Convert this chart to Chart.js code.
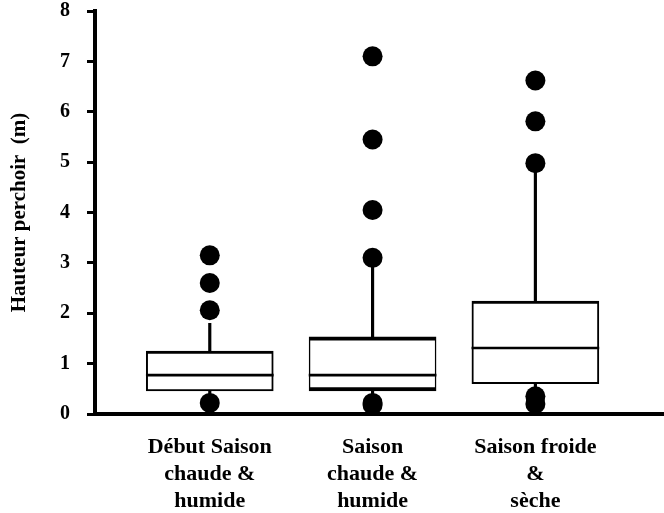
<!DOCTYPE html>
<html>
<head>
<meta charset="utf-8">
<script src="https://cdn.jsdelivr.net/npm/chart.js@4/dist/chart.umd.min.js"></script>
<style>
  html, body { margin: 0; padding: 0; background: #fff; }
  #wrap { width: 664px; height: 513px; }
</style>
</head>
<body>
<div id="wrap"><canvas id="boxChart" width="664" height="513"></canvas></div>
<script>
// Categories (x tick labels, one line per entry)
const categories = [
    ["Début Saison", "chaude &", "humide"],
    ["Saison", "chaude &", "humide"],
    ["Saison froide", "&", "sèche"]
];

// Box plot values (m)
const q1 = [0.46, 0.46, 0.60];
const median = [0.77, 0.77, 1.31];
const q3 = [1.25, 1.53, 2.24];
const whiskerHigh = [1.80, 3.00, 4.85];
const whiskerLow = [0.35, 0.30, 0.45];

// Outliers per category
const outliers1 = [3.15, 2.60, 2.06, 0.22];
const outliers2 = [7.10, 5.45, 4.05, 3.10, 0.22, 0.18];
const outliers3 = [6.62, 5.81, 4.98, 0.35, 0.20];

const yTicks = [0, 1, 2, 3, 4, 5, 6, 7, 8];

const serif = "'Liberation Serif', 'Times New Roman', serif";
const positions = categories.map((c, i) => i + 1);

// Build datasets from the arrays
const boxData = positions.map((x, i) => ({ x: x, y: [q1[i], q3[i]] }));
const medianData = positions.map((x, i) => ({ x: x, y: [median[i] - 0.02, median[i] + 0.02] }));
const upperWhisker = positions.map((x, i) => ({ x: x, y: [q3[i], whiskerHigh[i]] }));
const lowerWhisker = positions.map((x, i) => ({ x: x, y: [whiskerLow[i], q1[i]] }));
const outlierData = [];
[outliers1, outliers2, outliers3].forEach((list, i) => {
    list.forEach(v => outlierData.push({ x: positions[i], y: v }));
});

// Border widths of each box (top edges drawn heavier in the original)
const boxBorders = [
    { top: 3, bottom: 2, left: 2, right: 2 },
    { top: 4, bottom: 4, left: 1.5, right: 1.5 },
    { top: 3, bottom: 2, left: 2, right: 2 }
];

const ctx = document.getElementById("boxChart");
new Chart(ctx, {
    type: "bar",
    data: {
        datasets: [
            {
                type: "scatter",
                data: outlierData,
                backgroundColor: "#000",
                borderColor: "#000",
                pointRadius: 10,
                pointBorderWidth: 0,
                order: 1
            },
            {
                data: medianData,
                backgroundColor: "#000",
                borderWidth: 0,
                barThickness: 127,
                order: 2
            },
            {
                data: upperWhisker,
                backgroundColor: "#000",
                borderWidth: 0,
                barThickness: 2.5,
                order: 3
            },
            {
                data: lowerWhisker,
                backgroundColor: "#000",
                borderWidth: 0,
                barThickness: 2.5,
                order: 3
            },
            {
                data: boxData,
                backgroundColor: "#fff",
                borderColor: "#000",
                borderWidth: (c) => boxBorders[c.dataIndex],
                borderSkipped: false,
                barThickness: 127,
                order: 5
            }
        ]
    },
    options: {
        responsive: false,
        animation: false,
        grouped: false,
        layout: { autoPadding: false, padding: { left: 4, right: 0, top: 11, bottom: 0 } },
        plugins: {
            legend: { display: false },
            tooltip: { enabled: false }
        },
        scales: {
            x: {
                type: "linear",
                offset: false,
                min: 0.295,
                max: 3.79,
                grid: { display: false, drawTicks: false },
                border: { display: true, color: "#000", width: 4 },
                afterBuildTicks: (scale) => {
                    scale.ticks = positions.map(v => ({ value: v }));
                },
                afterFit: (scale) => {
                    scale.height = 99;
                    scale.paddingLeft = 0;
                    scale.paddingRight = 0;
                },
                ticks: {
                    padding: 20,
                    color: "#000",
                    maxRotation: 0,
                    autoSkip: false,
                    font: { family: serif, size: 22, weight: "bold", lineHeight: 1.23 },
                    callback: (value) => categories[value - 1]
                }
            },
            y: {
                min: 0,
                max: 8,
                afterBuildTicks: (scale) => {
                    scale.ticks = yTicks.map(v => ({ value: v }));
                },
                afterFit: (scale) => {
                    scale.width = 91;
                    scale.paddingTop = 0;
                    scale.paddingBottom = 0;
                },
                grid: {
                    display: true,
                    drawOnChartArea: false,
                    drawTicks: true,
                    tickLength: 8,
                    tickWidth: 3,
                    tickColor: "#000"
                },
                border: { display: true, color: "#000", width: 4 },
                ticks: {
                    padding: 17,
                    color: "#000",
                    font: { family: serif, size: 20, weight: "bold" }
                },
                title: {
                    display: true,
                    text: "Hauteur perchoir  (m)",
                    color: "#000",
                    padding: { top: 3, bottom: 20 },
                    font: { family: serif, size: 21, weight: "bold" }
                }
            }
        }
    }
});
</script>
</body>
</html>
